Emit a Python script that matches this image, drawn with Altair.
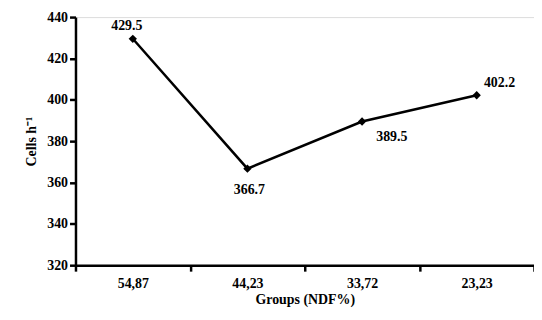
import altair as alt
import pandas as pd

groups = ["54,87", "44,23", "33,72", "23,23"]
cells = [429.5, 366.7, 389.5, 402.2]
labels = ["429.5", "366.7", "389.5", "402.2"]

df = pd.DataFrame({"group": groups, "cells": cells, "label": labels})

FONT = "Liberation Serif, Times New Roman, serif"

x = alt.X("group:N", sort=groups, title="Groups (NDF%)",
          scale=alt.Scale(paddingInner=0, paddingOuter=0),
          axis=alt.Axis(labelAngle=0, tickBand="extent", domainWidth=2.5, tickWidth=2.5,
                        tickSize=6, domainColor="black", tickColor="black",
                        labelFont=FONT, labelFontWeight="bold", labelFontSize=14,
                        labelColor="black", labelPadding=5,
                        titleFont=FONT, titleFontWeight="bold", titleFontSize=14,
                        titleColor="black", titlePadding=3))
y = alt.Y("cells:Q", title="Cells h⁻¹",
          scale=alt.Scale(domain=[320, 440], nice=False, zero=False),
          axis=alt.Axis(values=[320, 340, 360, 380, 400, 420, 440], grid=False,
                        domainWidth=2.5, tickWidth=2.5, tickSize=6,
                        domainColor="black", tickColor="black",
                        labelFont=FONT, labelFontWeight="bold", labelFontSize=14,
                        labelColor="black", labelPadding=2,
                        titleFont=FONT, titleFontWeight="bold", titleFontSize=14,
                        titleColor="black", titlePadding=8))

base = alt.Chart(df).encode(x=x, y=y)

line = base.mark_line(color="black", strokeWidth=2.5)
pts = base.mark_point(shape="diamond", filled=True, color="black", size=70, opacity=1)

offsets = {"54,87": (-6, -13), "44,23": (2, 22), "33,72": (30, 16), "23,23": (23, -12)}
texts = []
for g in groups:
    dx, dy = offsets[g]
    texts.append(
        base.transform_filter(alt.datum.group == g)
        .mark_text(font=FONT, fontWeight="bold", fontSize=14, color="black", dx=dx, dy=dy)
        .encode(text="label:N")
    )

chart = alt.layer(line, pts, *texts).properties(
    width=462, height=250,
    autosize=alt.AutoSizeParams(type="none"),
    padding={"left": 68, "top": 8, "right": 0, "bottom": 46},
).configure_view(stroke=None).configure(background="white")

chart.save("out.html", embed_options={"renderer": "svg", "actions": False})
